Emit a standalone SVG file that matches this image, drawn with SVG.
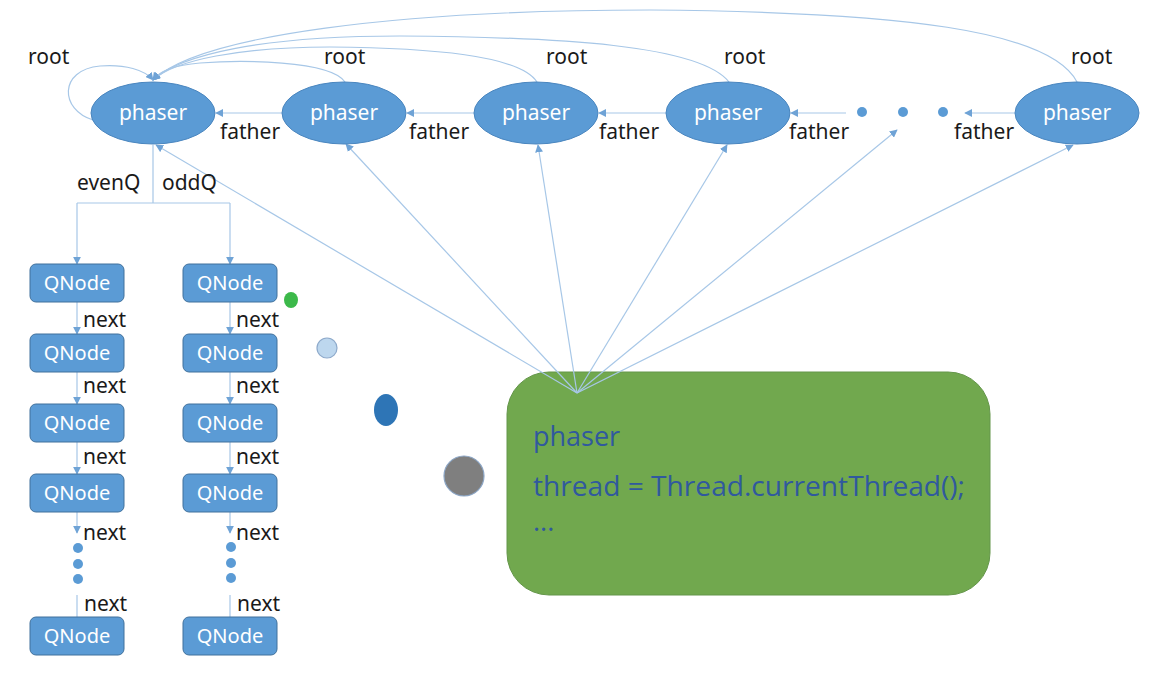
<svg xmlns="http://www.w3.org/2000/svg" width="1160" height="681" viewBox="0 0 1160 681">
  <style>
    .lbl { font-family: "Noto Sans", "Open Sans", sans-serif; font-size: 21px; fill: #1a1a1a; }
    .ph { fill: #5b9bd5; stroke: #4a86bf; stroke-width: 1; }
    .ph-t { font-family: "Noto Sans", "Open Sans", sans-serif; font-size: 21px; fill: #ffffff; text-anchor: middle; }
    .qn { fill: #5b9bd5; stroke: #41719c; stroke-width: 1; }
    .qn-t { font-family: "Noto Sans", "Open Sans", sans-serif; font-size: 20px; fill: #ffffff; text-anchor: middle; }
    .ln { fill: none; stroke: #a7c7e7; stroke-width: 1.2; }
    .ln-a { fill: none; stroke: #a7c7e7; stroke-width: 1.2; marker-end: url(#arr); }
    .dot { fill: #5b9bd5; }
    .code { font-family: "Open Sans", "Noto Sans", sans-serif; font-size: 27px; fill: #30599e; }
  </style>
  <defs>
    <marker id="arr" viewBox="0 0 10 10" refX="9" refY="5" markerWidth="8" markerHeight="8" markerUnits="userSpaceOnUse" orient="auto">
      <path d="M0,0 L10,5 L0,10 z" fill="#6fa3d6"/>
    </marker>
  </defs>

  <rect width="1160" height="681" fill="#ffffff"/>

  <!-- thread record box -->
  <g id="thread-box">
    <rect x="507" y="372" width="483" height="223" rx="42" ry="42" fill="#71a84e" stroke="#64964a" stroke-width="1"/>
    <text class="code" x="533" y="446">phaser</text>
    <text class="code" x="533" y="496" textLength="432" lengthAdjust="spacingAndGlyphs">thread = Thread.currentThread();</text>
    <text class="code" x="533" y="531">...</text>
  </g>

  <!-- connectors -->
  <g id="connectors">
    <!-- root references -->
    <path class="ln-a" d="M93,120 C60,110 58,70 100,66 C125,64 145,70 153,80"/>
    <path class="ln-a" d="M345,82 C330,60 240,60 200,63 C175,65 160,70 153,80"/>
    <path class="ln-a" d="M537,82 C520,55 430,48 330,47 C240,47 175,60 153,80"/>
    <path class="ln-a" d="M729,82 C700,45 560,37 400,36 C260,36 180,55 153,80"/>
    <path class="ln-a" d="M1077,82 C1050,30 900,12 650,10 C400,10 200,35 153,80"/>

    <!-- father links -->
    <line class="ln-a" x1="282" y1="113" x2="216" y2="113"/>
    <line class="ln-a" x1="474" y1="113" x2="407" y2="113"/>
    <line class="ln-a" x1="666" y1="113" x2="599" y2="113"/>
    <line class="ln-a" x1="846" y1="113" x2="791" y2="113"/>
    <line class="ln-a" x1="1015" y1="113" x2="965" y2="113"/>

    <!-- thread pointers -->
    <line class="ln-a" x1="577" y1="393" x2="156" y2="145"/>
    <line class="ln-a" x1="577" y1="393" x2="346" y2="144"/>
    <line class="ln-a" x1="577" y1="393" x2="538" y2="145"/>
    <line class="ln-a" x1="577" y1="393" x2="727" y2="145"/>
    <line class="ln-a" x1="577" y1="393" x2="897" y2="130"/>
    <line class="ln-a" x1="577" y1="393" x2="1073" y2="145"/>

    <!-- wait queues -->
    <path class="ln" d="M153,145 V203 M77,203 H230"/>
    <line class="ln-a" x1="77" y1="203" x2="77" y2="264"/>
    <line class="ln-a" x1="230" y1="203" x2="230" y2="264"/>

    <line class="ln-a" x1="77" y1="302" x2="77" y2="334"/>
    <line class="ln-a" x1="77" y1="372" x2="77" y2="404"/>
    <line class="ln-a" x1="77" y1="442" x2="77" y2="474"/>
    <line class="ln-a" x1="77" y1="512" x2="77" y2="533"/>
    <line class="ln" x1="77" y1="595" x2="77" y2="617"/>

    <line class="ln-a" x1="230" y1="302" x2="230" y2="334"/>
    <line class="ln-a" x1="230" y1="372" x2="230" y2="404"/>
    <line class="ln-a" x1="230" y1="442" x2="230" y2="474"/>
    <line class="ln-a" x1="230" y1="512" x2="230" y2="533"/>
    <line class="ln" x1="230" y1="595" x2="230" y2="617"/>
  </g>

  <!-- connector labels -->
  <g id="labels">
    <text class="lbl" x="28" y="64">root</text>
    <text class="lbl" x="324" y="64">root</text>
    <text class="lbl" x="546" y="64">root</text>
    <text class="lbl" x="724" y="64">root</text>
    <text class="lbl" x="1071" y="64">root</text>

    <text class="lbl" x="220" y="139">father</text>
    <text class="lbl" x="409" y="139">father</text>
    <text class="lbl" x="599" y="139">father</text>
    <text class="lbl" x="789" y="139">father</text>
    <text class="lbl" x="954" y="139">father</text>

    <text class="lbl" x="77" y="190">evenQ</text>
    <text class="lbl" x="162" y="190">oddQ</text>

    <text class="lbl" x="83" y="327">next</text>
    <text class="lbl" x="83" y="393">next</text>
    <text class="lbl" x="83" y="464">next</text>
    <text class="lbl" x="83" y="540">next</text>
    <text class="lbl" x="84" y="611">next</text>
    <text class="lbl" x="236" y="327">next</text>
    <text class="lbl" x="236" y="393">next</text>
    <text class="lbl" x="236" y="464">next</text>
    <text class="lbl" x="236" y="540">next</text>
    <text class="lbl" x="237" y="611">next</text>
  </g>

  <!-- phaser tree -->
  <g id="phaser-root">
    <ellipse class="ph" cx="153" cy="113" rx="62" ry="31"/>
    <text class="ph-t" x="153" y="120">phaser</text>
  </g>
  <g id="phaser-2">
    <ellipse class="ph" cx="344" cy="113" rx="62" ry="31"/>
    <text class="ph-t" x="344" y="120">phaser</text>
  </g>
  <g id="phaser-3">
    <ellipse class="ph" cx="536" cy="113" rx="62" ry="31"/>
    <text class="ph-t" x="536" y="120">phaser</text>
  </g>
  <g id="phaser-4">
    <ellipse class="ph" cx="728" cy="113" rx="62" ry="31"/>
    <text class="ph-t" x="728" y="120">phaser</text>
  </g>
  <g id="phaser-ellipsis">
    <circle class="dot" cx="862" cy="112" r="5"/>
    <circle class="dot" cx="903" cy="112" r="5"/>
    <circle class="dot" cx="943" cy="112" r="5"/>
  </g>
  <g id="phaser-leaf">
    <ellipse class="ph" cx="1077" cy="113" rx="62" ry="31"/>
    <text class="ph-t" x="1077" y="120">phaser</text>
  </g>

  <!-- even queue -->
  <g id="even-q1"><rect class="qn" x="30" y="264" width="94" height="38" rx="6"/><text class="qn-t" x="77" y="290">QNode</text></g>
  <g id="even-q2"><rect class="qn" x="30" y="334" width="94" height="38" rx="6"/><text class="qn-t" x="77" y="360">QNode</text></g>
  <g id="even-q3"><rect class="qn" x="30" y="404" width="94" height="38" rx="6"/><text class="qn-t" x="77" y="430">QNode</text></g>
  <g id="even-q4"><rect class="qn" x="30" y="474" width="94" height="38" rx="6"/><text class="qn-t" x="77" y="500">QNode</text></g>
  <g id="even-ellipsis">
    <circle class="dot" cx="78" cy="548" r="5"/>
    <circle class="dot" cx="78" cy="564" r="5"/>
    <circle class="dot" cx="78" cy="579" r="5"/>
  </g>
  <g id="even-qn"><rect class="qn" x="30" y="617" width="94" height="38" rx="6"/><text class="qn-t" x="77" y="643">QNode</text></g>

  <!-- odd queue -->
  <g id="odd-q1"><rect class="qn" x="183" y="264" width="94" height="38" rx="6"/><text class="qn-t" x="230" y="290">QNode</text></g>
  <g id="odd-q2"><rect class="qn" x="183" y="334" width="94" height="38" rx="6"/><text class="qn-t" x="230" y="360">QNode</text></g>
  <g id="odd-q3"><rect class="qn" x="183" y="404" width="94" height="38" rx="6"/><text class="qn-t" x="230" y="430">QNode</text></g>
  <g id="odd-q4"><rect class="qn" x="183" y="474" width="94" height="38" rx="6"/><text class="qn-t" x="230" y="500">QNode</text></g>
  <g id="odd-ellipsis">
    <circle class="dot" cx="231" cy="547" r="5"/>
    <circle class="dot" cx="231" cy="563" r="5"/>
    <circle class="dot" cx="231" cy="578" r="5"/>
  </g>
  <g id="odd-qn"><rect class="qn" x="183" y="617" width="94" height="38" rx="6"/><text class="qn-t" x="230" y="643">QNode</text></g>

  <!-- loose markers -->
  <g id="markers">
    <ellipse cx="291" cy="300" rx="7" ry="8" fill="#3cb94a"/>
    <circle cx="327" cy="348" r="10" fill="#bdd7ee" stroke="#8eaacb" stroke-width="1.2"/>
    <ellipse cx="386" cy="410" rx="12" ry="16" fill="#2e75b6"/>
    <circle cx="464" cy="476" r="20" fill="#7f7f7f" stroke="#8ca6c6" stroke-width="1.2"/>
  </g>
</svg>
